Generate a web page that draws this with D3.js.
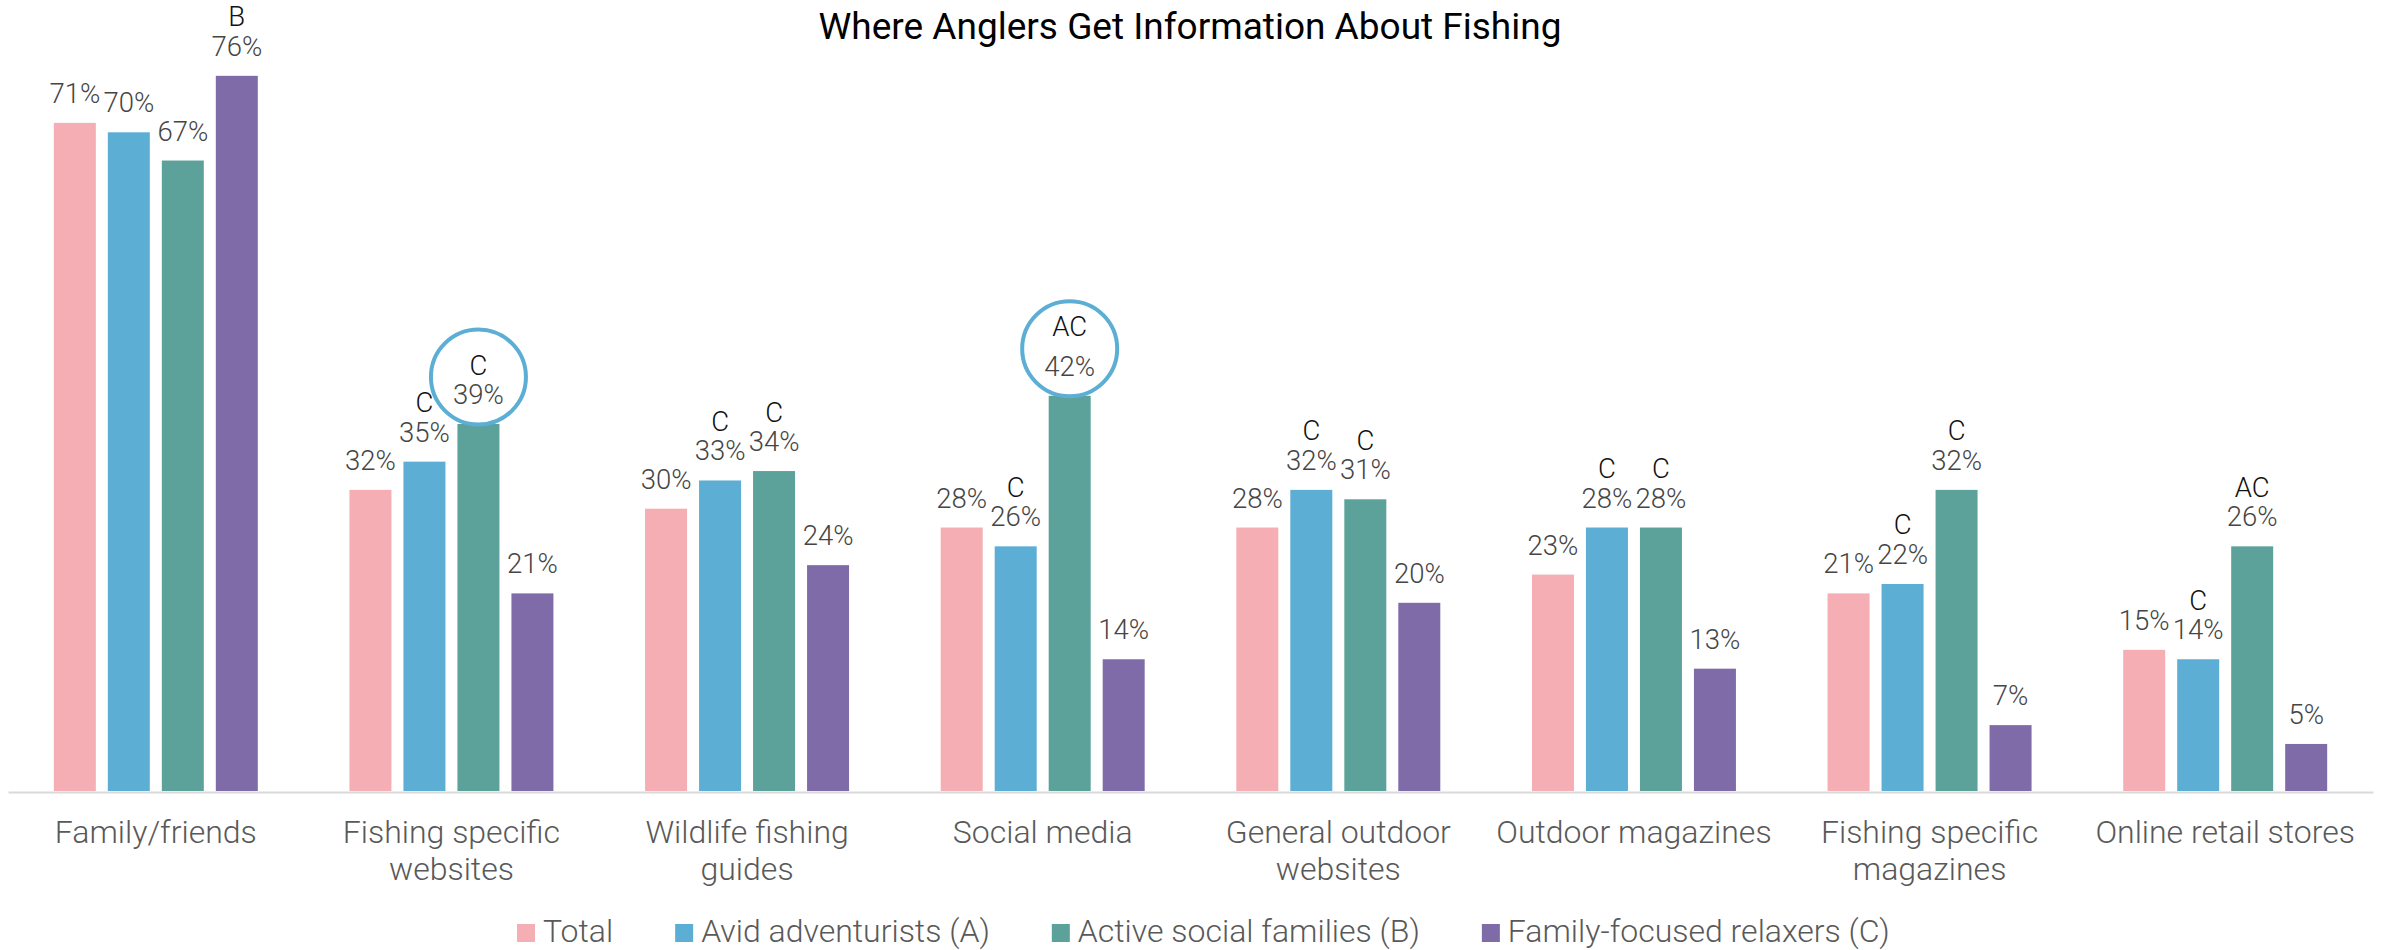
<!DOCTYPE html>
<html>
<head>
<meta charset="utf-8">
<script src="https://cdn.jsdelivr.net/npm/d3@7"></script>
<style>
  html, body { margin: 0; padding: 0; background: #fff; }
  svg { display: block; }
  text { font-family: Roboto, "Noto Sans", sans-serif; }
</style>
</head>
<body>
<svg id="chart" width="2381" height="950"></svg>
<script>
const categories = [
  ["Family/friends"],
  ["Fishing specific", "websites"],
  ["Wildlife fishing", "guides"],
  ["Social media"],
  ["General outdoor", "websites"],
  ["Outdoor magazines"],
  ["Fishing specific", "magazines"],
  ["Online retail stores"]
];
const seriesNames = ["Total", "Avid adventurists (A)", "Active social families (B)", "Family-focused relaxers (C)"];
const seriesColors = ["#f4aeb4", "#5caed4", "#5da29a", "#7f6ba8"];

const totalValues   = [71, 32, 30, 28, 28, 23, 21, 15];
const avidValues    = [70, 35, 33, 26, 32, 28, 22, 14];
const activeValues  = [67, 39, 34, 42, 31, 28, 32, 26];
const relaxerValues = [76, 21, 24, 14, 20, 13, 7, 5];

const totalSig   = ["", "", "", "", "", "", "", ""];
const avidSig    = ["", "C", "C", "C", "C", "C", "C", "C"];
const activeSig  = ["", "C", "C", "AC", "C", "C", "C", "AC"];
const relaxerSig = ["B", "", "", "", "", "", "", ""];

// highlighted (circled) bars: [category index, series index]
const circled = [[1, 2], [3, 2]];

const seriesValues = [totalValues, avidValues, activeValues, relaxerValues];
const seriesSig = [totalSig, avidSig, activeSig, relaxerSig];

const svg = d3.select("#chart");
const catKeys = categories.map(c => c.join(" "));

const baseline = 791;
const x0 = d3.scaleBand().domain(catKeys).range([8, 2373]).paddingInner(0.31).paddingOuter(0.155);
const x1 = d3.scaleBand().domain(seriesNames).range([0, x0.bandwidth()]).paddingInner(12 / 54);
const y = d3.scaleLinear().domain([0, 80]).range([baseline, baseline - 80 * 9.41]);

// title
svg.append("text")
  .attr("x", 1190).attr("y", 39)
  .attr("text-anchor", "middle")
  .attr("font-size", 37).attr("font-weight", 400).attr("fill", "#000")
  .text("Where Anglers Get Information About Fishing");

// data records
const records = [];
catKeys.forEach((c, ci) => {
  seriesNames.forEach((s, si) => {
    records.push({ ci, si, cat: c, series: s, value: seriesValues[si][ci], sig: seriesSig[si][ci] });
  });
});

// bars
svg.append("g").selectAll("rect").data(records).join("rect")
  .attr("x", d => x0(d.cat) + x1(d.series))
  .attr("width", x1.bandwidth())
  .attr("y", d => y(d.value))
  .attr("height", d => baseline - y(d.value))
  .attr("fill", d => seriesColors[d.si]);

// axis line
const xAxis = d3.axisBottom(x0).tickSize(0).tickFormat("");
const axG = svg.append("g").attr("transform", `translate(0,${baseline + 1})`).call(xAxis);
axG.select(".domain").attr("stroke", "#d9d9d9").attr("stroke-width", 2);

// circles
const circleRecs = records.filter(d => circled.some(c => c[0] === d.ci && c[1] === d.si));
svg.append("g").selectAll("circle").data(circleRecs).join("circle")
  .attr("cx", d => x0(d.cat) + x1(d.series) + x1.bandwidth() / 2)
  .attr("cy", d => y(d.value) - 47)
  .attr("r", 47.5)
  .attr("fill", "#fff")
  .attr("stroke", "#5caed4")
  .attr("stroke-width", 4);

// value labels
const lab = svg.append("g").attr("font-weight", 300).attr("font-size", 27.5).attr("text-anchor", "middle");
lab.selectAll("text.val").data(records).join("text")
  .attr("class", "val")
  .attr("x", d => x0(d.cat) + x1(d.series) + x1.bandwidth() / 2)
  .attr("y", d => y(d.value) - 20)
  .attr("fill", "#454545")
  .text(d => d.value + "%");

lab.selectAll("text.sig").data(records.filter(d => d.sig)).join("text")
  .attr("class", "sig")
  .attr("x", d => x0(d.cat) + x1(d.series) + x1.bandwidth() / 2)
  .attr("y", d => {
    const isC = circled.some(c => c[0] === d.ci && c[1] === d.si);
    return y(d.value) - 20 - (isC ? (d.sig.length > 1 ? 40 : 29) : 29.5);
  })
  .attr("fill", "#111")
  .text(d => d.sig);

// category labels
const catG = svg.append("g").attr("font-weight", 300).attr("font-size", 32).attr("fill", "#595959").attr("text-anchor", "middle");
categories.forEach((lines, ci) => {
  const t = catG.append("text")
    .attr("x", x0(catKeys[ci]) + x0.bandwidth() / 2)
    .attr("y", 843);
  lines.forEach((ln, li) => {
    t.append("tspan")
      .attr("x", x0(catKeys[ci]) + x0.bandwidth() / 2)
      .attr("dy", li === 0 ? 0 : 37)
      .text(ln);
  });
});

// legend
const leg = svg.append("g").attr("font-weight", 300).attr("font-size", 32).attr("fill", "#595959");
let lx = 517;
seriesNames.forEach((s, si) => {
  leg.append("rect").attr("x", lx).attr("y", 924).attr("width", 18).attr("height", 18).attr("fill", seriesColors[si]);
  const t = leg.append("text").attr("x", lx + 26).attr("y", 942).text(s);
  const w = t.node().getComputedTextLength();
  lx = lx + 26 + w + 62;
});
</script>
</body>
</html>
